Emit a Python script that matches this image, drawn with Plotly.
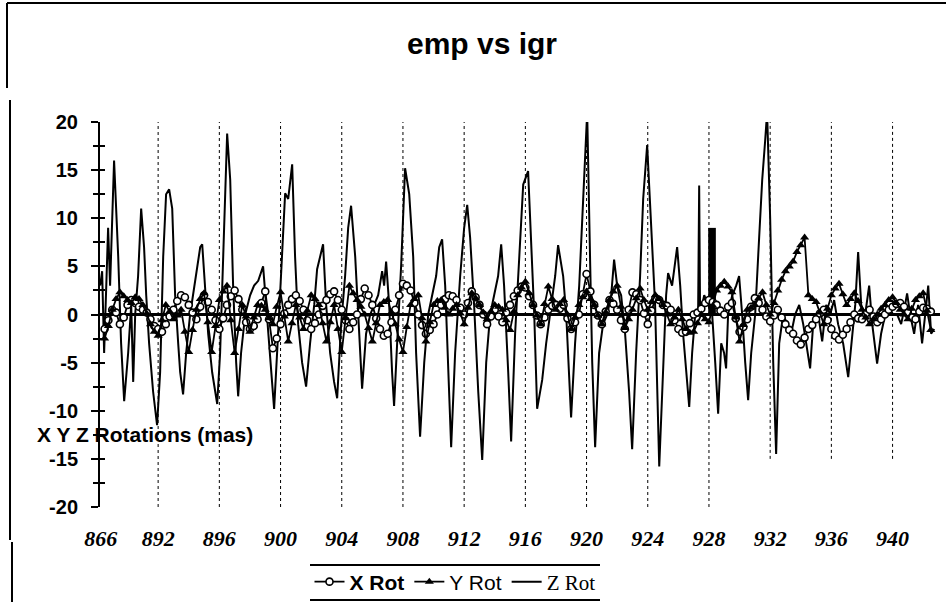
import numpy as np
import plotly.graph_objects as go

# ---------------- data ----------------
x_tick_days = [888.25, 892, 896, 900, 904, 908, 912, 916, 920, 924, 928, 932, 936, 940]
x_tick_labels = ["866", "892", "896", "900", "904", "908", "912", "916", "920", "924",
                 "928", "932", "936", "940"]
grid_days = [892, 896, 900, 904, 908, 912, 916, 920, 924, 928, 932, 936, 940]
y_tick_vals = [-20, -15, -10, -5, 0, 5, 10, 15, 20]
y_tick_labels = ["-20", "-15", "-10", "-5", "0", "5", "10", "15", "20"]

# X Rot and Y Rot sampled every quarter day from day 888.5
xy_days = list(np.arange(888.5, 942.51, 0.25))

x_rot = [-1.5, -0.6, 0.5, 0.2, -1, -0.3, 1, 1.5, 1.2, 0.8, 0.5, 0.2, -0.5, -1.2, -1.5, -1.8, -1, -0.2, 0.5, 1.4,
         2, 1.8, 1, 0.2, -0.5, 0.8, 2, 1.3, 0.5, -0.6, -1.5, -0.4, 1, 1.9, 2.5, 1.6, 0.5, -0.8, -1.5, -1.2,
         -0.5, 1.2, 2.4, -0.5, -3.5, -2.5, -1, 0.1, 1, 1.6, 2, 1.4, 0.5, -0.6, -1.5, -0.9, 0, 0.9, 1.5, 2.1,
         2.4, 1.5, 0.5, -0.6, -1.5, -0.8, 0, 1.6, 2.7, 2, 1, -0.4, -1.5, -2.2, -2, -0.8, 0.5, 2, 3.2, 3,
         2.5, 1.2, 0, -1.1, -2, -1.6, -1, 0, 1, 1.6, 2, 1.9, 1.5, 0.7, 0, 1.2, 2.4, 1.8, 1, 0,
         -1, -0.2, 0.5, -0.2, -0.8, 0.2, 1, 1.9, 2.5, 2.9, 2.8, 1.9, 1, -0.1, -1, -0.3, 0.5, 0.9, 1, 0.6,
         1, -0.4, -1.5, -0.8, 0, 2.1, 4.2, 2.4, 1, -0.1, -1, 0.3, 1.5, 1.1, 0.5, -0.6, -1.5, 0.5, 2.3, 2.1,
         1.5, 0.1, -1, 0.4, 1.7, 1.5, 1, 0.9, 0.5, -0.6, -1.5, -1.9, -1.8, -0.9, 0, 0.2, 0.6, 1.2, 1.5, 1.3,
         1, 0.4, 0, 0.8, 1.2, -0.4, -1.8, -1.3, -0.5, 0.8, 1.7, 1.2, 0.5, -0.2, -0.7, -0.1, 0.5, -0.3, -1, -1.6,
         -2, -2.7, -3.1, -2.4, -1.5, -1.1, -0.5, 0.1, 0.5, -0.6, -1.5, -2.2, -2.6, -2.1, -1.5, -0.8, 0, -0.4, -0.5, 0.1,
         0.5, -0.2, -0.8, -0.5, 0, 0.5, 0.8, 1.1, 1.2, 0.8, 0.2, -0.3, -0.5, 0.3, 0.7, 0.6, 0.3]

y_rot = [-2.5, -1.2, 0.5, 1.6, 2.3, 1.9, 1.5, 1.2, 1.8, 1.6, 1, 0.1, -1, -1.8, -2.2, -0.6, 1, 0.3, -0.5, -0.1,
         0.5, -1.8, -3.9, -1.6, 0.5, 1.6, 2.2, -0.8, -3.9, -1.2, 1.5, 2.4, 3, -0.6, -4, -1.5, 1, -0.2, -1.8, -0.3,
         1, 0.9, 0.5, -0.4, -1, 0.8, 2.3, -0.2, -2.8, -0.9, 1, -0.3, -1.5, 0.4, 2, 1.6, 1, -0.9, -2.8, -0.8,
         1, -1.5, -3.9, -0.4, 3, 2.2, 1.5, 0.8, 0, -1.4, -2.8, -0.9, 1, 1.3, 1.5, 0.2, -1, -2.6, -3.9, -1.3,
         1, 1.6, 2, -0.4, -2.8, -0.8, 1, 1.4, 1.5, 0.7, 0, 0.6, 1, 0.1, -1, 0.7, 2.2, 1.7, 1, 0.2,
         -0.5, 0.3, 1, 0.8, 0.5, -0.6, -1.6, 0.3, 2, 2.8, 3.4, 2.2, 1, -0.1, -1, 1.1, 2.9, 1.6, 0.5, 1.1,
         1.5, 0, -1.5, -0.3, 1, 1.8, 2.4, 1.6, 1, -0.1, -1, 0.2, 1.5, 2.4, 3, 0.8, -1.4, -0.5, 0.5, 1.7,
         2.7, 1.5, 0.5, 1.3, 2, 1.6, 1, 0, -1, -0.3, 0.5, -0.5, -1.5, -1.9, -1.8, -0.9, 0, -0.5, -0.8, 0.9,
         2.5, 3, 3.4, 2.9, 2.3, -0.3, -2.8, -1.1, 0.5, 0.7, 1, 1.7, 2.3, 1, 0, 1.2, 2.5, 3.6, 4.5, 5,
         5.5, 6.5, 7.2, 8, 2, 1.6, 1.3, 0.2, -1, 0.6, 2, 2.7, 3.2, 2.1, 1, 1.6, 2.2, 1.4, 0.5, -0.3,
         -1, -0.5, 0, 0.6, 1, 1.5, 1.8, 1.2, 0.5, 0, -0.5, 0.6, 1.5, 1.9, 2.2, 0.4, -1.6]

# Z Rot read at its turning points
z_days = [888.21, 888.34, 888.47, 888.60, 888.73, 888.86, 889.12, 889.39, 889.58, 889.78,
          890.04, 890.24, 890.37, 890.50, 890.69, 890.89, 891.08, 891.22, 891.41, 891.67,
          891.93, 892.13, 892.33, 892.52, 892.72, 892.92, 893.11, 893.31, 893.44, 893.63,
          893.83, 894.09, 894.29, 894.55, 894.75, 894.88, 895.07, 895.27, 895.53, 895.86,
          896.05, 896.25, 896.51, 896.71, 896.90, 897.10, 897.23, 897.42, 897.69, 898.01,
          898.27, 898.54, 898.86, 899.06, 899.32, 899.58, 899.84, 900.04, 900.30, 900.50,
          900.76, 900.95, 901.15, 901.41, 901.67, 901.93, 902.20, 902.39, 902.52, 902.78,
          902.98, 903.24, 903.50, 903.70, 903.96, 904.22, 904.42, 904.61, 904.88, 905.07,
          905.33, 905.59, 905.86, 906.12, 906.38, 906.64, 906.77, 906.90, 907.10, 907.29,
          907.42, 907.62, 907.88, 908.14, 908.41, 908.67, 908.86, 909.12, 909.39, 909.65,
          909.91, 910.17, 910.37, 910.56, 910.76, 910.95, 911.15, 911.41, 911.74, 912.00,
          912.20, 912.39, 912.65, 912.92, 913.18, 913.44, 913.70, 913.96, 914.22, 914.42,
          914.61, 914.88, 915.07, 915.33, 915.59, 915.86, 916.18, 916.38, 916.58, 916.77,
          916.97, 917.10, 917.36, 917.62, 917.95, 918.14, 918.34, 918.47, 918.67, 918.99,
          919.25, 919.52, 919.78, 920.04, 920.24, 920.37, 920.56, 920.82, 921.08, 921.35,
          921.61, 921.80, 922.00, 922.26, 922.52, 922.78, 922.98, 923.24, 923.50, 923.70,
          923.96, 924.22, 924.48, 924.75, 925.01, 925.20, 925.33, 925.59, 925.92, 926.12,
          926.31, 926.51, 926.71, 926.90, 927.10, 927.29, 927.36, 927.42, 927.69, 927.95,
          928.21, 928.41, 928.60, 928.80, 928.99, 929.12, 929.25, 929.52, 929.78, 929.97,
          930.17, 930.37, 930.56, 930.76, 931.02, 931.28, 931.48, 931.67, 931.80, 932.00,
          932.20, 932.39, 932.59, 932.85, 933.11, 933.37, 933.63, 933.90, 934.16, 934.35,
          934.61, 934.81, 935.14, 935.40, 935.66, 935.92, 936.18, 936.44, 936.77, 937.10,
          937.36, 937.56, 937.75, 937.95, 938.21, 938.47, 938.67, 938.99, 939.25, 939.52,
          939.78, 940.04, 940.30, 940.56, 940.82, 940.95, 941.15, 941.41, 941.67, 941.93,
          942.20, 942.33, 942.52, 942.72]

z_rot = [3, 4.5, -4, 2, 9, 3, 16, 6, -3, -9,
         -4, 1, -7, 0, 4, 11, 7, 2, -3, -8,
         -11.5, -6, 6, 12.5, 13, 11, 2, -3, -6, -8.3,
         -4, 0, 2, 5, 7, 7.3, 3, -2, -6, -9.3,
         -4, 6, 18.8, 14, 3, -5, -8.5, -4, 0, 2,
         3, 3.5, 5, 1, -4, -9.8, -2, 5, 12.6, 12,
         15.6, 6, -1, -5, -7.5, -3, 1, 4.7, 5.5, 7.3,
         1, -4, -7, -8.7, -1, 4, 9, 11.3, 6, 0,
         -7.7, -2, 0, 1, 2, 4.5, 3, 5.5, 1, -6,
         -9.5, -3, 5, 15.2, 12.5, 6, -4, -12.7, -5, 0,
         2, 4, 7, 7.8, 3, -6, -13.8, -4, 4, 9,
         11.4, 8, 1, -8, -15.1, -5, 0, 2, 4, 7.3,
         3, -6, -13.2, -2, 6, 13.5, 14.9, 8, 0, -9.8,
         -8, -6.8, -3, 0, 4, 7.2, 5, 4, 0, -10.7,
         -3, 3, 12, 21, 5, -5, -13.8, -4, -1, 0,
         2, 5.7, 3, 2, -2, -8, -14, -4, 4, 12,
         17.6, 10, 1, -15.8, -5, 2, 4.3, 3, 7, 3,
         -2, -6, -9.6, -4, 0, 0, 13.4, 0, 2, 1,
         0, -5, -10.3, -3, -4, -5.6, 0, 2, 3, 4,
         0, -5, -8.9, -4, 0, 8, 14, 18, 21, 10,
         -5, -14.5, -3, 0, -1, -2, 0, 1, -1, -3,
         -5.6, -1, 0, -2.8, 1, 0, 1.5, -1, -3, -6.5,
         -2, 1, 6.5, 1, 0, 3, -1, -5.1, -2, 0,
         0.5, 0, 0, -1, 1, 2.2, 0, -2, 1, -3,
         1, 3, -2, -1.5]

# solid block visible in the scan near day 928
block_day = [928.2]
block_val = [9]

# ---------------- layout helpers ----------------
W, H = 950, 602
L, R, T, B = 100, 10, 122, 95
PW, PH = W - L - R, H - T - B


def fx(px):
    return (px - L) / PW


def fy(py):
    return (H - B - py) / PH


FONT_SANS = "Liberation Sans, Arial, sans-serif"
FONT_SERIF = "Liberation Serif, Times New Roman, serif"

fig = go.Figure()

fig.add_trace(go.Scatter(
    x=z_days, y=z_rot, mode="lines", name="<span style='font-family:Liberation Serif'>Z Rot</span>",
    line=dict(color="black", width=2), legendrank=3))

fig.add_trace(go.Bar(
    x=block_day, y=block_val, width=0.5, marker=dict(color="black", line=dict(width=0)),
    showlegend=False, hoverinfo="skip"))

fig.add_trace(go.Scatter(
    x=xy_days, y=x_rot, mode="lines+markers", name="<b>X Rot</b>",
    line=dict(color="black", width=1.8),
    marker=dict(symbol="circle", size=7, color="white", line=dict(color="black", width=1.6)),
    legendrank=1))

fig.add_trace(go.Scatter(
    x=xy_days, y=y_rot, mode="lines+markers", name="Y Rot",
    line=dict(color="black", width=1.8),
    marker=dict(symbol="triangle-up", size=8, color="black"),
    legendrank=2))

# empty trace to carry the crossing ticks axis
fig.add_trace(go.Scatter(x=[None], y=[None], yaxis="y2", showlegend=False, hoverinfo="skip"))

shapes = []
for gd in grid_days:
    bottom = -15 if gd >= 932 else -20
    shapes.append(dict(type="line", xref="x", yref="y", x0=gd, x1=gd, y0=bottom, y1=20,
                       line=dict(color="black", width=1, dash="dot"), layer="below"))

frame = dict(color="black", width=2)
shapes += [
    dict(type="line", xref="paper", yref="paper", x0=fx(7), x1=fx(946), y0=fy(3), y1=fy(3), line=frame),
    dict(type="line", xref="paper", yref="paper", x0=fx(7), x1=fx(7), y0=fy(3), y1=fy(88), line=frame),
    dict(type="line", xref="paper", yref="paper", x0=fx(10), x1=fx(10), y0=fy(100), y1=fy(540), line=frame),
    dict(type="line", xref="paper", yref="paper", x0=fx(12), x1=fx(12), y0=fy(542), y1=fy(602), line=frame),
    dict(type="line", xref="paper", yref="paper", x0=fx(310), x1=fx(600), y0=fy(565), y1=fy(565), line=frame),
    dict(type="line", xref="paper", yref="paper", x0=fx(310), x1=fx(600), y0=fy(600), y1=fy(600), line=frame),
]

fig.update_layout(
    width=W, height=H,
    margin=dict(l=L, r=R, t=T, b=B),
    paper_bgcolor="white", plot_bgcolor="white",
    showlegend=True,
    barmode="overlay",
    title=dict(text="<b>emp vs igr</b>", x=482 / W, y=1 - 43 / H, xref="container", yref="container",
               xanchor="center", yanchor="middle",
               font=dict(family=FONT_SANS, size=30, color="black")),
    xaxis=dict(range=[888.2, 943.1], tickmode="array", tickvals=x_tick_days, ticktext=x_tick_labels,
               showgrid=False, zeroline=False, showline=False, ticks="",
               tickfont=dict(family=FONT_SERIF, size=22, color="black", weight="bold", style="italic"),
               ticklabelstandoff=16),
    yaxis=dict(range=[-20, 20], tickmode="array", tickvals=y_tick_vals, ticktext=y_tick_labels,
               showgrid=False, zeroline=True, zerolinecolor="black", zerolinewidth=2.5,
               showline=True, linecolor="black", linewidth=2,
               ticks="outside", ticklen=7, tickwidth=1.5, tickcolor="black",
               minor=dict(ticks="outside", ticklen=5, tickwidth=1.5, tickcolor="black",
                          tickmode="linear", tick0=0, dtick=2.5, showgrid=False),
               tickfont=dict(family=FONT_SANS, size=20, color="black", weight="bold"),
               ticklabelstandoff=9),
    yaxis2=dict(range=[-20, 20], overlaying="y", side="left", anchor="x",
                showgrid=False, zeroline=False, showline=False, showticklabels=False,
                tickmode="linear", tick0=0, dtick=2.5,
                ticks="inside", ticklen=5, tickwidth=1.5, tickcolor="black"),
    legend=dict(orientation="h", x=455 / W, y=1 - 582 / H, xref="container", yref="container",
                xanchor="center", yanchor="middle", bgcolor="rgba(0,0,0,0)",
                font=dict(family=FONT_SANS, size=21, color="black"),
                itemwidth=30, tracegroupgap=0),
    shapes=shapes,
    annotations=[dict(text="<b>X Y Z Rotations (mas)</b>", xref="paper", yref="paper",
                      x=fx(35), y=fy(434), xanchor="left", yanchor="middle", showarrow=False,
                      font=dict(family=FONT_SANS, size=21, color="black"))],
)

fig.write_html("out.html")
